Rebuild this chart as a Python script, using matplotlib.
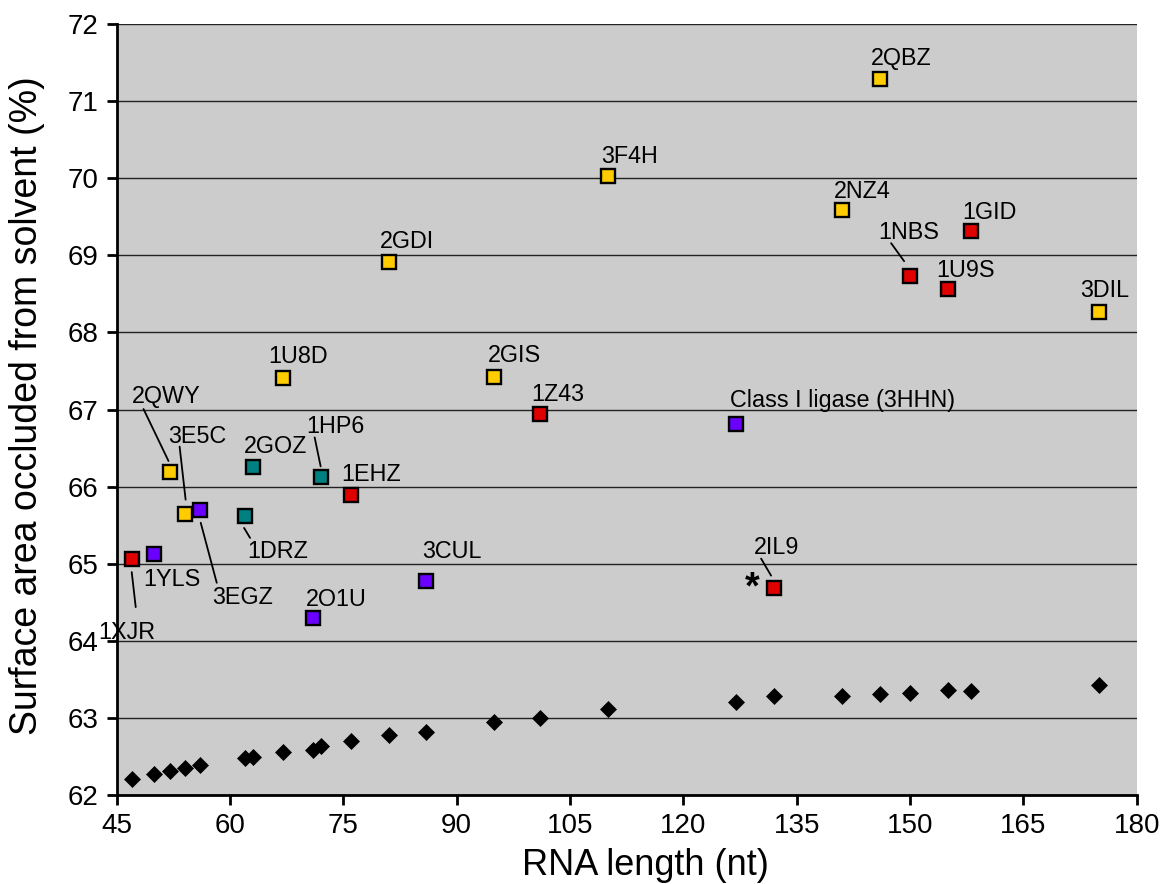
import matplotlib
matplotlib.use('Agg')
import matplotlib.pyplot as plt
from matplotlib.transforms import offset_copy

plt.rcParams['font.family'] = ['Liberation Sans', 'DejaVu Sans']

# RNA structures (PDB id), length in nt and % surface area occluded from solvent
names = ['1XJR', '1YLS', '2QWY', '3E5C', '3EGZ', '1DRZ', '2GOZ', '1U8D', '2O1U', '1HP6',
         '1EHZ', '2GDI', '3CUL', '2GIS', '1Z43', '3F4H', 'Class I ligase (3HHN)', '2IL9',
         '2NZ4', '2QBZ', '1NBS', '1U9S', '1GID', '3DIL']
lengths = [47, 50, 52, 54, 56, 62, 63, 67, 71, 72, 76, 81, 86, 95, 101, 110, 127, 132,
           141, 146, 150, 155, 158, 175]
occluded = [65.06, 65.12, 66.19, 65.65, 65.70, 65.62, 66.26, 67.41, 64.30, 66.12,
            65.89, 68.92, 64.78, 67.42, 66.94, 70.03, 66.81, 64.69,
            69.59, 71.29, 68.73, 68.57, 69.32, 68.27]
groups = ['red', 'purple', 'yellow', 'yellow', 'purple', 'teal', 'teal', 'yellow', 'purple', 'teal',
          'red', 'yellow', 'purple', 'yellow', 'red', 'yellow', 'purple', 'red',
          'yellow', 'yellow', 'red', 'red', 'red', 'yellow']
# black diamonds (reference values at the same lengths)
baseline = [62.21, 62.27, 62.31, 62.35, 62.39, 62.48, 62.49, 62.56, 62.59, 62.63,
            62.70, 62.78, 62.82, 62.95, 63.00, 63.11, 63.21, 63.28,
            63.29, 63.31, 63.32, 63.36, 63.35, 63.43]

colors = {'yellow': '#FFCC00', 'red': '#E00000', 'purple': '#6A00FF', 'teal': '#008080'}

# label placement, offset in pixels from the point (text centre)
label_off = {'1XJR': (-5, -72), '1YLS': (18, -24), '2QWY': (-3, 77), '3E5C': (13, 79),
             '3EGZ': (43, -86), '1DRZ': (33, -34), '2GOZ': (23, 22), '1U8D': (15, 23),
             '2O1U': (23, 20), '1HP6': (15, 52), '1EHZ': (20, 22), '2GDI': (18, 22),
             '3CUL': (25, 31), '2GIS': (20, 23), '1Z43': (18, 21), '3F4H': (22, 21),
             'Class I ligase (3HHN)': (106, 25), '2IL9': (2, 42), '2NZ4': (20, 20),
             '2QBZ': (21, 22), '1NBS': (-1, 45), '1U9S': (18, 20), '1GID': (19, 20),
             '3DIL': (6, 23)}
# leader lines: (start, end) offsets in pixels from the point
leaders = {'2QWY': ((-26, 63), (-1, 11)), '3E5C': ((-5, 67), (1, 14)),
           '3EGZ': ((17, -73), (1, -13)), '1HP6': ((-6, 40), (0, 11)),
           '1DRZ': ((5, -22), (-1, -12)), '1XJR': ((4, -48), (0, -13)),
           '1NBS': ((-19, 33), (-6, 15)), '2IL9': ((-13, 29), (-3, 12))}

fig = plt.figure(figsize=(11.66, 8.84), dpi=100)
ax = fig.add_axes([0.1, 0.1007, 0.875, 0.872])
ax.set_facecolor('#CCCCCC')

ax.plot(lengths, baseline, 'D', color='black', ms=8, mew=0.5, zorder=3)
for x, y, g in zip(lengths, occluded, groups):
    ax.plot(x, y, 's', ms=9.8, mfc=colors[g], mec='black', mew=1.7, zorder=4)

for name, x, y in zip(names, lengths, occluded):
    dx, dy = label_off[name]
    ax.annotate(name, (x, y), xytext=(dx, dy - 8), textcoords='offset pixels',
                ha='center', va='baseline', fontsize=16.8, zorder=5)
    if name in leaders:
        (sx, sy), (ex, ey) = leaders[name]
        tr = offset_copy(ax.transData, fig=fig, x=ex, y=ey, units='dots')
        ax.annotate('', (x, y), xycoords=tr, xytext=(sx - ex, sy - ey),
                    textcoords='offset pixels',
                    arrowprops=dict(arrowstyle='-', color='black', lw=1.3,
                                    shrinkA=0, shrinkB=0))

i = names.index('2IL9')
ax.annotate('*', (lengths[i], occluded[i]), xytext=(-22, -1), textcoords='offset pixels',
            ha='center', va='center', fontsize=27, fontweight='bold')

ax.set_xlim(45, 180)
ax.set_ylim(62, 72)
ax.set_xticks(range(45, 181, 15))
ax.set_yticks(range(62, 73))
ax.yaxis.grid(True, color='#222222', lw=1)
ax.set_axisbelow(True)

for s in ['top', 'right']:
    ax.spines[s].set_visible(False)
for s in ['left', 'bottom']:
    ax.spines[s].set_linewidth(2)
ax.tick_params(direction='out', length=7, width=2, labelsize=20, pad=6)

ax.set_xlabel('RNA length (nt)', fontsize=26)
ax.set_ylabel('Surface area occluded from solvent (%)', fontsize=27)
ax.xaxis.set_label_coords(0.518, -0.069)
ax.yaxis.set_label_coords(-0.07, 0.505)

fig.savefig('out.png', dpi=100)
